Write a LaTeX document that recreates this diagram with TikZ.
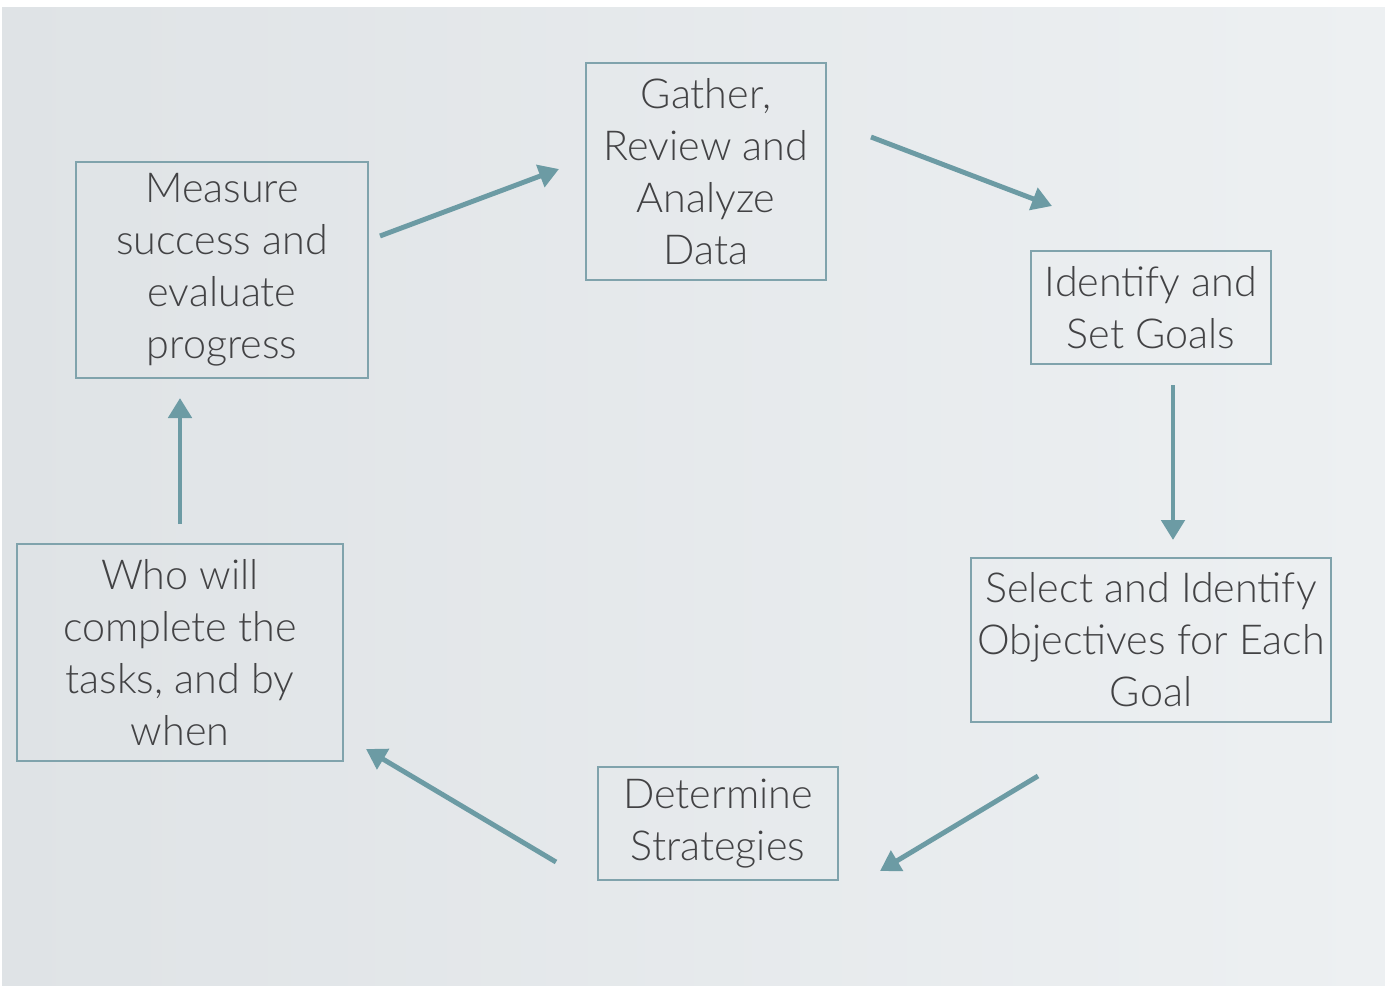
\documentclass[tikz,border=0pt]{standalone}
\usepackage{fontspec}
\setmainfont{Lato}[UprightFont=* Light]
\usetikzlibrary{arrows.meta}

\definecolor{stepline}{RGB}{128,163,172}
\definecolor{steparrow}{RGB}{108,155,164}
\definecolor{steptext}{RGB}{66,66,68}
\definecolor{slideleft}{RGB}{223,227,230}
\definecolor{slideright}{RGB}{237,240,242}

\begin{document}
\begin{tikzpicture}[x=0.02cm,y=-0.02cm,
    every text node part/.style={align=center},
    stepbox/.style={draw=stepline,line width=0.9pt,inner sep=0pt,
      text=steptext,font=\fontsize{23.5}{29.6}\selectfont},
    cycarrow/.style={draw=steparrow,line width=2.8pt,
      -{Triangle[length=0.4cm,width=0.46cm]}}]
      \useasboundingbox (0,0) rectangle (1385,985);
      \shade[left color=slideleft,right color=slideright] (2,7) rectangle (1385,985);

      \node[stepbox,minimum width=240*0.02cm,minimum height=217*0.02cm] (GatherN)  at (706,171.5)
        {Gather,\\Review and\\Analyze\\Data};
      \node[stepbox,minimum width=240*0.02cm,minimum height=113*0.02cm] (GoalsN)   at (1151,307.5)
        {Identify and\\Set Goals};
      \node[stepbox,minimum width=360*0.02cm,minimum height=164*0.02cm] (ObjN)     at (1151,640)
        {Select and Identify\\Objectives for Each\\Goal};
      \node[stepbox,minimum width=240*0.02cm,minimum height=113*0.02cm] (StratN)   at (718,823.5)
        {Determine\\Strategies};
      \node[stepbox,minimum width=326*0.02cm,minimum height=217*0.02cm] (WhoN)     at (180,652.5)
        {Who will\\complete the\\tasks, and by\\when};
      \node[stepbox,minimum width=292*0.02cm,minimum height=216*0.02cm] (MeasureN) at (222,270)
        {Measure\\success and\\evaluate\\progress};

      \coordinate (a1s) at (380,236);  \coordinate (a1e) at (559,169);
      \coordinate (a2s) at (871,137);  \coordinate (a2e) at (1052,206);
      \coordinate (a3s) at (1173,385); \coordinate (a3e) at (1173,540);
      \coordinate (a4s) at (1038,776); \coordinate (a4e) at (880,871);
      \coordinate (a5s) at (556,862);  \coordinate (a5e) at (366,749);
      \coordinate (a6s) at (180,524);  \coordinate (a6e) at (180,398);

      \draw[cycarrow] (a1s) -- (a1e);
      \draw[cycarrow] (a2s) -- (a2e);
      \draw[cycarrow] (a3s) -- (a3e);
      \draw[cycarrow] (a4s) -- (a4e);
      \draw[cycarrow] (a5s) -- (a5e);
      \draw[cycarrow] (a6s) -- (a6e);
    \end{tikzpicture}
\end{document}
